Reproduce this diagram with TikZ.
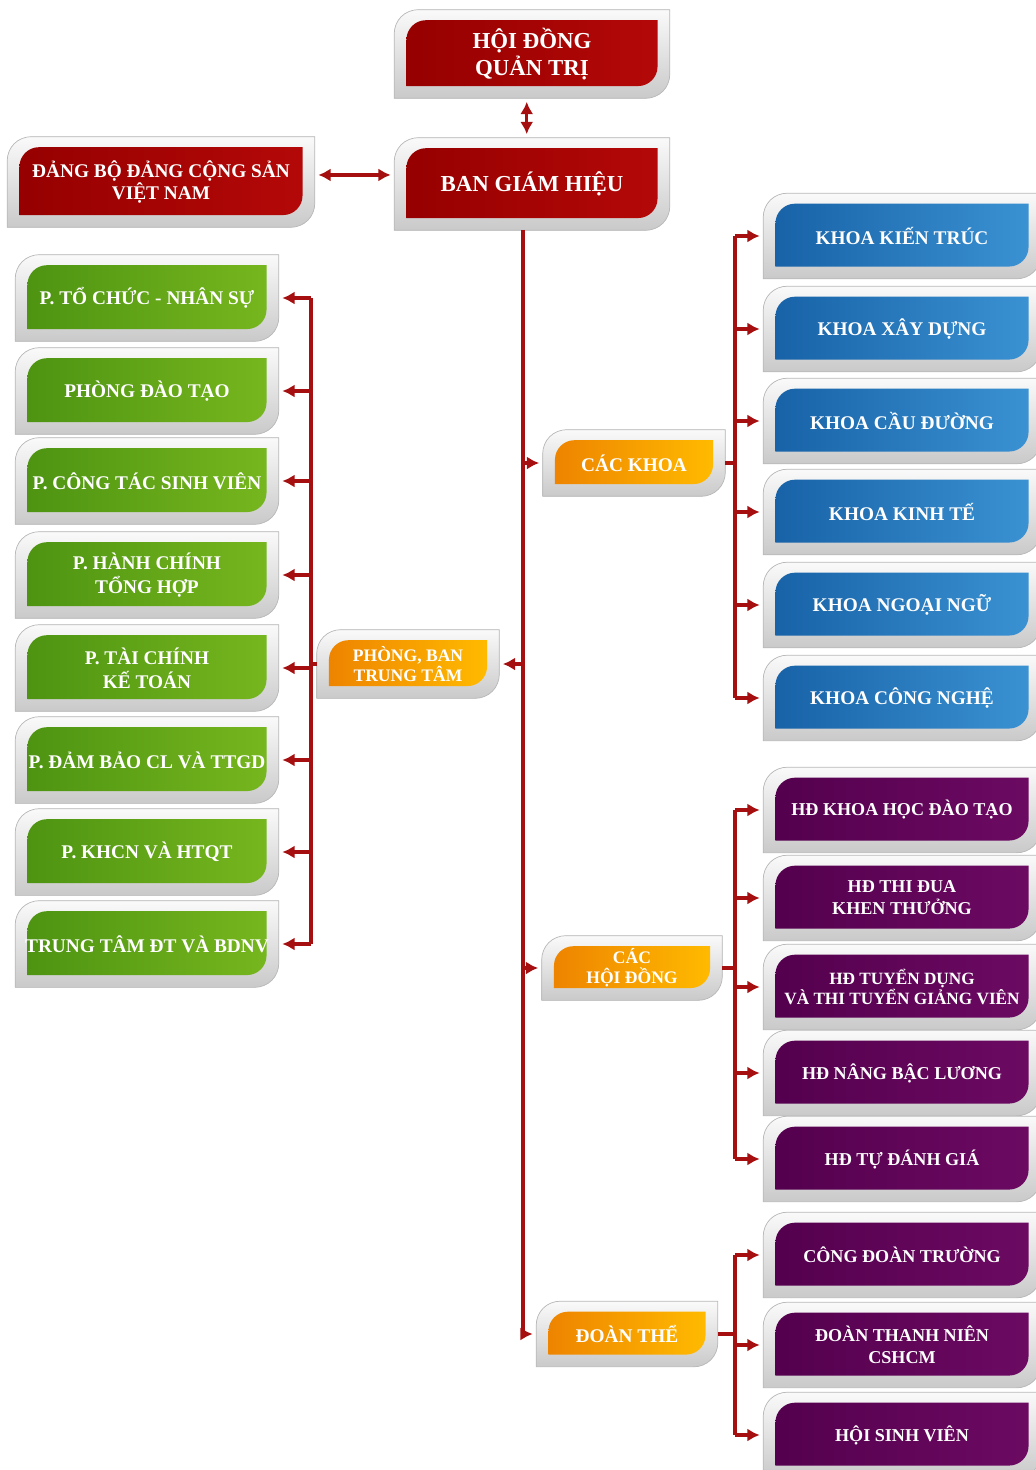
\documentclass[tikz,border=0pt]{standalone}
\usepackage{fontspec}
\setmainfont{Liberation Serif}
\usetikzlibrary{arrows.meta,backgrounds}

\definecolor{linkred}{RGB}{165,15,15}
\definecolor{redL}{RGB}{150,0,0}
\definecolor{redR}{RGB}{180,8,8}
\definecolor{greenL}{RGB}{78,148,18}
\definecolor{greenR}{RGB}{118,182,30}
\definecolor{blueL}{RGB}{24,98,168}
\definecolor{blueR}{RGB}{58,146,210}
\definecolor{purpleL}{RGB}{84,0,78}
\definecolor{purpleR}{RGB}{108,10,98}
\definecolor{orangeL}{RGB}{238,132,0}
\definecolor{orangeR}{RGB}{255,186,0}

% silver frame + coloured plate behind a node
\newcommand{\tabbox}[2]{%
  \fill[black,opacity=.22,xshift=1.5pt,yshift=-2.5pt] (#1.south west) -- ([yshift=-14pt]#1.north west) .. controls ([yshift=-6pt]#1.north west) and ([xshift=6pt]#1.north west) .. ([xshift=14pt]#1.north west) -- (#1.north east) -- ([yshift=14pt]#1.south east) .. controls ([yshift=6pt]#1.south east) and ([xshift=-6pt]#1.south east) .. ([xshift=-14pt]#1.south east) -- cycle;
  \shadedraw[top color=gray!4,bottom color=gray!42,draw=gray!55,line width=.4pt] (#1.south west) -- ([yshift=-14pt]#1.north west) .. controls ([yshift=-6pt]#1.north west) and ([xshift=6pt]#1.north west) .. ([xshift=14pt]#1.north west) -- (#1.north east) -- ([yshift=14pt]#1.south east) .. controls ([yshift=6pt]#1.south east) and ([xshift=-6pt]#1.south east) .. ([xshift=-14pt]#1.south east) -- cycle;
  \shade[left color=#2L,right color=#2R] ([shift={(7pt,7pt)}]#1.south west) -- ([shift={(7pt,-17pt)}]#1.north west) .. controls ([shift={(7pt,-11pt)}]#1.north west) and ([shift={(12pt,-6pt)}]#1.north west) .. ([shift={(18pt,-6pt)}]#1.north west) -- ([shift={(-7pt,-6pt)}]#1.north east) -- ([shift={(-7pt,18pt)}]#1.south east) .. controls ([shift={(-7pt,12pt)}]#1.south east) and ([shift={(-12pt,7pt)}]#1.south east) .. ([shift={(-18pt,7pt)}]#1.south east) -- cycle;
}

\tikzset{
  tab/.style={inner sep=0pt, text=white, align=center},
  redbox/.style={tab, minimum width=5.5cm, minimum height=1.8cm, font=\bfseries\fontsize{13}{15}\selectfont},
  greenbox/.style={tab, minimum width=5.26cm, minimum height=1.72cm, font=\bfseries\fontsize{11}{13.5}\selectfont},
  bluebox/.style={tab, minimum width=5.54cm, minimum height=1.7cm, font=\bfseries\fontsize{11}{13}\selectfont},
  purplebox/.style={bluebox, font=\bfseries\fontsize{10.3}{12.5}\selectfont},
  orangebox/.style={tab, minimum width=3.64cm, minimum height=1.32cm, font=\bfseries\fontsize{11}{12.5}\selectfont},
  link/.style={draw=linkred, line width=2pt},
  arr/.style={link, -{Latex[length=7pt,width=7.5pt]}, shorten >=2pt},
  dblarr/.style={link, {Latex[length=7pt,width=7.5pt]}-{Latex[length=7pt,width=7.5pt]}, shorten <=2pt, shorten >=2pt}
}

\begin{document}
\begin{tikzpicture}[x=0.02cm, y=-0.02cm]
  \useasboundingbox (0,0) rectangle (1035,1470);

  % top
  \node[redbox, minimum height=1.76cm] (hdqt) at (532,54) {HỘI ĐỒNG\\QUẢN TRỊ};
  \node[redbox, minimum height=1.84cm] (bgh) at (532,184) {BAN GIÁM HIỆU};
  \node[redbox, minimum width=6.14cm, font=\bfseries\fontsize{11}{13}\selectfont] (dang) at (161,182) {ĐẢNG BỘ ĐẢNG CỘNG SẢN\\VIỆT NAM};

  % middle
  \node[orangebox] (khoa) at (634,463) {CÁC KHOA};
  \node[orangebox, minimum height=1.36cm, font=\bfseries\fontsize{10}{11.5}\selectfont] (phong) at (408,664) {PHÒNG, BAN\\TRUNG TÂM};
  \node[orangebox, minimum width=3.6cm, minimum height=1.28cm, font=\bfseries\fontsize{10}{11.5}\selectfont] (hoidong) at (632,968) {CÁC\\HỘI ĐỒNG};
  \node[orangebox, minimum width=3.62cm, minimum height=1.3cm] (doanthe) at (627,1334) {ĐOÀN THỂ};

  % phong ban
  \node[greenbox] (g1) at (147,298) {P. TỔ CHỨC - NHÂN SỰ};
  \node[greenbox] (g2) at (147,391) {PHÒNG ĐÀO TẠO};
  \node[greenbox] (g3) at (147,481) {P. CÔNG TÁC SINH VIÊN};
  \node[greenbox] (g4) at (147,575) {P. HÀNH CHÍNH\\TỔNG HỢP};
  \node[greenbox] (g5) at (147,668) {P. TÀI CHÍNH\\KẾ TOÁN};
  \node[greenbox] (g6) at (147,760) {P. ĐẢM BẢO CL VÀ TTGD};
  \node[greenbox] (g7) at (147,852) {P. KHCN VÀ HTQT};
  \node[greenbox] (g8) at (147,944) {TRUNG TÂM ĐT VÀ BDNV};

  % khoa
  \node[bluebox] (k1) at (902,236) {KHOA KIẾN TRÚC};
  \node[bluebox] (k2) at (902,329) {KHOA XÂY DỰNG};
  \node[bluebox] (k3) at (902,421) {KHOA CẦU ĐƯỜNG};
  \node[bluebox] (k4) at (902,512) {KHOA KINH TẾ};
  \node[bluebox] (k5) at (902,605) {KHOA NGOẠI NGỮ};
  \node[bluebox] (k6) at (902,698) {KHOA CÔNG NGHỆ};

  % hoi dong
  \node[purplebox] (h1) at (902,810) {HĐ KHOA HỌC ĐÀO TẠO};
  \node[purplebox] (h2) at (902,898) {HĐ THI ĐUA\\KHEN THƯỞNG};
  \node[purplebox, font=\bfseries\fontsize{9.8}{11.5}\selectfont] (h3) at (902,987) {HĐ TUYỂN DỤNG\\VÀ THI TUYỂN GIẢNG VIÊN};
  \node[purplebox] (h4) at (902,1073) {HĐ NÂNG BẬC LƯƠNG};
  \node[purplebox] (h5) at (902,1159) {HĐ TỰ ĐÁNH GIÁ};

  % doan the
  \node[purplebox] (d1) at (902,1255) {CÔNG ĐOÀN TRƯỜNG};
  \node[purplebox] (d2) at (902,1345) {ĐOÀN THANH NIÊN\\CSHCM};
  \node[purplebox] (d3) at (902,1435) {HỘI SINH VIÊN};

  \begin{scope}[on background layer]
    \foreach \n/\c in {hdqt/red,bgh/red,dang/red,khoa/orange,phong/orange,hoidong/orange,doanthe/orange,
        g1/green,g2/green,g3/green,g4/green,g5/green,g6/green,g7/green,g8/green,
        k1/blue,k2/blue,k3/blue,k4/blue,k5/blue,k6/blue,
        h1/purple,h2/purple,h3/purple,h4/purple,h5/purple,d1/purple,d2/purple,d3/purple}
      {\tabbox{\n}{\c}}
  \end{scope}

  % connectors
  \coordinate (spine) at (523,230);
  \coordinate (lbus) at (311,668);
  \coordinate (rbus) at (735,463);

  \draw[dblarr] ([xshift=-3pt]hdqt.south) -- ([xshift=-3pt]bgh.north);
  \draw[dblarr] ([yshift=4pt]dang.east) -- ([yshift=4pt]dang.east -| bgh.west);

  \draw[arr] (spine) |- (doanthe.west);
  \draw[arr] (spine |- khoa.west) -- (khoa.west);
  \draw[arr] (spine |- phong.east) -- (phong.east);
  \draw[arr] (spine |- hoidong.west) -- (hoidong.west);

  \draw[link] (phong.west) -- (phong.west -| lbus);
  \draw[link] (lbus |- g1.east) -- (lbus |- g8.east);
  \foreach \i in {1,...,8}
    \draw[arr] (lbus |- g\i.east) -- (g\i.east);

  \draw[link] (khoa.east) -- (khoa.east -| rbus);
  \draw[link] (rbus |- k1.west) -- (rbus |- k6.west);
  \foreach \i in {1,...,6}
    \draw[arr] (rbus |- k\i.west) -- (k\i.west);

  \draw[link] (hoidong.east) -- (hoidong.east -| rbus);
  \draw[link] (rbus |- h1.west) -- (rbus |- h5.west);
  \foreach \i in {1,...,5}
    \draw[arr] (rbus |- h\i.west) -- (h\i.west);

  \draw[link] (doanthe.east) -- (doanthe.east -| rbus);
  \draw[link] (rbus |- d1.west) -- (rbus |- d3.west);
  \foreach \i in {1,...,3}
    \draw[arr] (rbus |- d\i.west) -- (d\i.west);
\end{tikzpicture}
\end{document}
